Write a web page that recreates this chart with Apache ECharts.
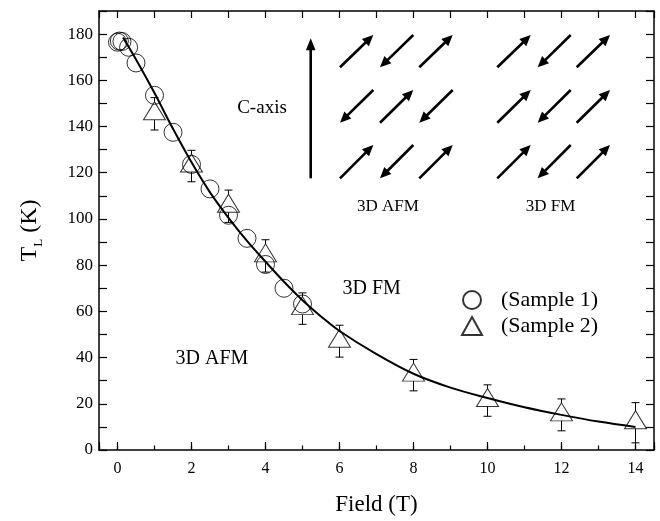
<!DOCTYPE html>
<html>
<head>
<meta charset="utf-8">
<script src="https://cdn.jsdelivr.net/npm/echarts@6/dist/echarts.min.js"></script>
<style>
html,body{margin:0;padding:0;background:#fff;}
#chart{width:660px;height:521px;}
</style>
</head>
<body>
<div id="chart"></div>
<script>
// ---- data ----
const sample1X = [0, 0.05, 0.12, 0.3, 0.5, 1, 1.5, 2, 2.5, 3, 3.5, 4, 4.5, 5];
const sample1Y = [176.5, 177, 176.8, 174.3, 167.5, 153.5, 137.5, 123.6, 113, 101.6, 91.6, 80.3, 70, 63.2];

const sample2X = [1, 2, 3, 4, 5, 6, 8, 10, 12, 14];
const sample2Y = [145.5, 122.9, 105.5, 84, 61.2, 47.1, 32.4, 21.4, 15.2, 11.8];
const sample2Err = [7, 6.8, 7, 7, 6.8, 6.9, 6.8, 6.8, 6.9, 8.7];

const fitX = [0.15, 0.5, 1, 1.5, 2, 2.5, 3, 3.5, 4, 4.5, 5, 5.5, 6, 7, 8, 9, 10, 11, 12, 13, 14];
const fitY = [178.5, 169, 154.5, 139, 124.5, 111.5, 100.5, 90.5, 81.5, 72.8, 64.8, 57.8, 51.5, 41.5, 33, 27, 22.5, 18.5, 15.2, 12.3, 10];

const xLabelStep = 2;
const yLabelStep = 20;

// ---- chart ----
const FONT = '"Liberation Serif", "DejaVu Serif", serif';
const chart = echarts.init(document.getElementById('chart'), null, {renderer: 'canvas'});

const triData = sample2X.map((x, i) => [x, sample2Y[i], sample2Err[i]]);

function errorBars(gapTop, gapBot) {
  return function (params, api) {
    const x = api.value(0), y = api.value(1), e = api.value(2);
    const p = api.coord([x, y]);
    const pt = api.coord([x, y + e]);
    const pb = api.coord([x, y - e]);
    const cw = 4;
    const st = {stroke: '#000', lineWidth: 1};
    const ch = [];
    if (pt[1] < p[1] - gapTop) {
      ch.push({type: 'line', shape: {x1: p[0], y1: pt[1], x2: p[0], y2: p[1] - gapTop}, style: st});
      ch.push({type: 'line', shape: {x1: p[0] - cw, y1: pt[1], x2: p[0] + cw, y2: pt[1]}, style: st});
    }
    if (pb[1] > p[1] + gapBot) {
      ch.push({type: 'line', shape: {x1: p[0], y1: p[1] + gapBot, x2: p[0], y2: pb[1]}, style: st});
      ch.push({type: 'line', shape: {x1: p[0] - cw, y1: pb[1], x2: p[0] + cw, y2: pb[1]}, style: st});
    }
    return {type: 'group', children: ch};
  };
}

function arrow(x1, y1, x2, y2, lw, hl, hw) {
  const dx = x2 - x1, dy = y2 - y1;
  const L = Math.sqrt(dx * dx + dy * dy);
  const ux = dx / L, uy = dy / L;
  const bx = x2 - ux * hl, by = y2 - uy * hl;
  const nx = -uy, ny = ux;
  return [
    {type: 'line', shape: {x1: x1, y1: y1, x2: bx + ux, y2: by + uy}, style: {stroke: '#000', lineWidth: lw}},
    {type: 'polygon', shape: {points: [[x2, y2], [bx + nx * hw, by + ny * hw], [bx - nx * hw, by - ny * hw]]}, style: {fill: '#000'}}
  ];
}

// inset drawing (decoration)
const inset = [];
inset.push(...arrow(310.7, 178.3, 310.7, 38.3, 2.6, 12, 4.8));
const rows = [[35, 67.3], [90, 122.7], [145, 178.3]];
const afmCols = [[340, 373.3], [380, 413.3], [419.3, 452.7]];
const fmCols = [[497.3, 530.7], [537.7, 570.7], [576.7, 610]];
const afmDirs = [[1, 0, 1], [0, 1, 0], [1, 0, 1]];
const fmDirs = [[1, 0, 1], [1, 0, 1], [1, 0, 1]];
function addGrid(cols, dirs) {
  rows.forEach((r, ri) => {
    cols.forEach((c, ci) => {
      if (dirs[ri][ci]) inset.push(...arrow(c[0], r[1], c[1], r[0], 2.6, 11, 5));
      else inset.push(...arrow(c[1], r[0], c[0], r[1], 2.6, 11, 5));
    });
  });
}
addGrid(afmCols, afmDirs);
addGrid(fmCols, fmDirs);

function txt(s, x, y, size) {
  return {type: 'text', x: x, y: y, style: {text: s, font: size + 'px ' + FONT, fill: '#000', align: 'center', verticalAlign: 'middle'}};
}
inset.push(txt('C-axis', 262, 108.5, 19));
inset.push(txt('3D AFM', 388, 207, 17));
inset.push(txt('3D FM', 550.5, 207, 17));
inset.push(txt('3D FM', 371.7, 288.5, 20));
inset.push(txt('3D AFM', 212, 359, 20));

const axisLine = {show: true, onZero: false, lineStyle: {color: '#000', width: 1.5}};

const option = {
  backgroundColor: '#fff',
  animation: false,
  textStyle: {fontFamily: FONT},
  grid: {left: 99, right: 6, top: 11, bottom: 63, containLabel: false},
  legend: {
    show: true,
    orient: 'vertical',
    left: 456,
    top: 284,
    itemWidth: 20,
    itemHeight: 18,
    itemGap: 4,
    data: ['(Sample 1)', '(Sample 2)'],
    textStyle: {fontFamily: FONT, fontSize: 22, color: '#000', padding: [0, 0, 0, 14]}
  },
  xAxis: [
    {
      type: 'value', position: 'bottom', min: -0.5, max: 14.5, splitNumber: 7,
      name: 'Field (T)', nameLocation: 'middle', nameGap: 43,
      nameTextStyle: {fontFamily: FONT, fontSize: 23, color: '#000'},
      axisLine: axisLine,
      axisTick: {show: true, inside: true, length: 8, lineStyle: {color: '#000', width: 1.2}},
      axisLabel: {show: true, margin: 11, fontFamily: FONT, fontSize: 16, color: '#000',
        formatter: v => (Math.abs(v % xLabelStep) < 1e-9 && v >= 0 && v <= 14 ? String(v) : '')},
      splitLine: {show: false}
    },
    {
      type: 'value', position: 'bottom', min: -0.5, max: 14.5, splitNumber: 15,
      axisLine: {show: false, onZero: false},
      axisTick: {show: true, inside: true, length: 4.5, lineStyle: {color: '#000', width: 1.2}},
      axisLabel: {show: false}, splitLine: {show: false}
    },
    {
      type: 'value', position: 'top', min: -0.5, max: 14.5, splitNumber: 15,
      axisLine: axisLine,
      axisTick: {show: true, inside: true, length: 7, lineStyle: {color: '#000', width: 1.2}},
      axisLabel: {show: false}, splitLine: {show: false}
    }
  ],
  yAxis: [
    {
      type: 'value', position: 'left', min: 0, max: 190, interval: 10,
      name: '{t|T}{s|L}{t| (K)}', nameLocation: 'middle', nameGap: 54,
      nameTextStyle: {
        color: '#000',
        rich: {
          t: {fontFamily: FONT, fontSize: 24, color: '#000', lineHeight: 30},
          s: {fontFamily: FONT, fontSize: 13, color: '#000', verticalAlign: 'bottom', lineHeight: 30}
        }
      },
      axisLine: axisLine,
      axisTick: {show: true, inside: true, length: 8, lineStyle: {color: '#000', width: 1.2}},
      axisLabel: {show: true, margin: 6, fontFamily: FONT, fontSize: 17, color: '#000',
        formatter: v => (v % yLabelStep === 0 ? String(v) : '')},
      splitLine: {show: false}
    },
    {
      type: 'value', position: 'right', min: 0, max: 190, interval: 10,
      axisLine: axisLine,
      axisTick: {show: true, inside: true, length: 8, lineStyle: {color: '#000', width: 1.2}},
      axisLabel: {show: false}, splitLine: {show: false}
    }
  ],
  series: [
    {
      type: 'custom', name: 'err2', renderItem: errorBars(12, 6), data: triData,
      encode: {x: 0, y: 1}, z: 1, silent: true
    },
    {
      type: 'line', name: 'fit', data: fitX.map((x, i) => [x, fitY[i]]),
      smooth: 0.35, showSymbol: false, symbol: 'none',
      lineStyle: {color: '#000', width: 2}, z: 3, silent: true
    },
    {
      type: 'scatter', name: '(Sample 1)', data: sample1X.map((x, i) => [x, sample1Y[i]]),
      symbol: 'circle', symbolSize: 18,
      itemStyle: {color: 'rgba(255,255,255,0)', borderColor: '#000', borderWidth: 1}, z: 4
    },
    {
      type: 'scatter', name: '(Sample 2)', data: sample2X.map((x, i) => [x, sample2Y[i]]),
      symbol: 'triangle', symbolSize: [22, 18], symbolOffset: [0, -3],
      itemStyle: {color: 'rgba(255,255,255,0)', borderColor: '#000', borderWidth: 1}, z: 5
    }
  ],
  graphic: {elements: inset}
};
chart.setOption(option);
</script>
</body>
</html>
